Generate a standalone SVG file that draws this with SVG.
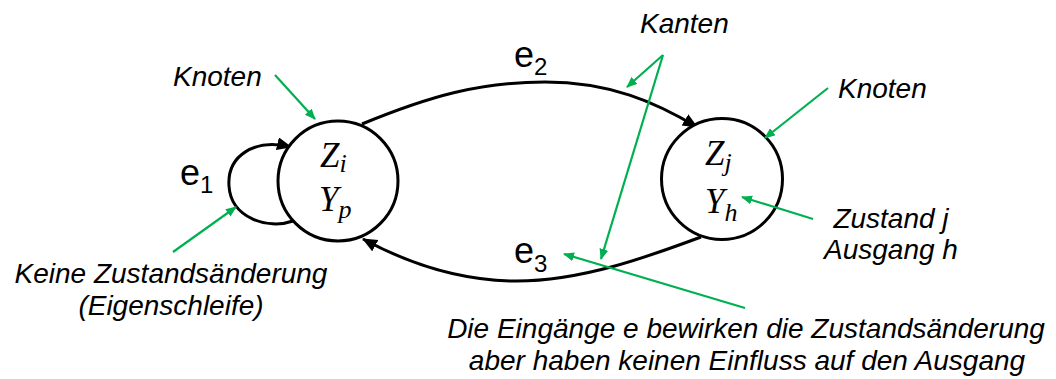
<svg xmlns="http://www.w3.org/2000/svg" width="1056" height="379" viewBox="0 0 1056 379">
<style>
.node{fill:#fff;stroke:#000;stroke-width:3}
.edge{fill:none;stroke:#000;stroke-width:3}
.ann{fill:none;stroke:#00B050;stroke-width:2.2}
.lbl{font-family:"Liberation Sans",Arial,sans-serif;font-style:italic;font-size:28px;fill:#000}
.e{font-family:"Liberation Sans",Arial,sans-serif;font-size:36px;fill:#000}
.es{font-size:24px}
.m{font-family:"Liberation Serif","Times New Roman",serif;font-style:italic;font-size:35px;fill:#000}
.ms{font-size:26px}
</style>
<defs>
<marker id="ah" markerUnits="userSpaceOnUse" markerWidth="16" markerHeight="14" refX="14" refY="6.5" orient="auto">
<path d="M0,0 L15,6.5 L0,13 z" fill="#000"/>
</marker>
<marker id="ga" markerUnits="userSpaceOnUse" markerWidth="12" markerHeight="10" refX="10" refY="4.5" orient="auto">
<path d="M0,0 L11,4.5 L0,9 z" fill="#00B050"/>
</marker>
</defs>
<g id="connectors">
<path class="edge" d="M293 221 C268 230 231 218 229 186 C227 156 254 138 291 147" marker-end="url(#ah)"/>
<path class="edge" d="M362 124 C430 96 480 82 545 82 C610 82 655 102 697 127" marker-end="url(#ah)"/>
<path class="edge" d="M701 237 C650 256 580 282 513 281 C450 280 400 259 363 239" marker-end="url(#ah)"/>
</g>
<g id="node-i">
<circle class="node" cx="338" cy="181" r="60"/>
<text class="m" x="320" y="167">Z<tspan class="ms" dy="5">i</tspan></text>
<text class="m" x="319" y="211">Y<tspan class="ms" dy="7">p</tspan></text>
</g>
<g id="node-j">
<circle class="node" cx="722" cy="179" r="60.5"/>
<text class="m" x="705" y="165">Z<tspan class="ms" dy="6">j</tspan></text>
<text class="m" x="705" y="213">Y<tspan class="ms" dy="8">h</tspan></text>
</g>
<g id="edge-labels">
<text class="e" x="180" y="185">e<tspan class="es" dy="8">1</tspan></text>
<text class="e" x="514" y="67">e<tspan class="es" dy="8">2</tspan></text>
<text class="e" x="514" y="263">e<tspan class="es" dy="9">3</tspan></text>
</g>
<g id="annotations">
<line class="ann" x1="275" y1="75" x2="315" y2="119" marker-end="url(#ga)"/>
<line class="ann" x1="173" y1="252" x2="236" y2="207" marker-end="url(#ga)"/>
<line class="ann" x1="663" y1="55" x2="627" y2="87" marker-end="url(#ga)"/>
<line class="ann" x1="663" y1="55" x2="601" y2="259" marker-end="url(#ga)"/>
<line class="ann" x1="828" y1="88" x2="765" y2="138" marker-end="url(#ga)"/>
<line class="ann" x1="813" y1="219" x2="742" y2="197" marker-end="url(#ga)"/>
<line class="ann" x1="745" y1="308" x2="564" y2="254" marker-end="url(#ga)"/>
</g>
<g id="texts">
<text class="lbl" x="173" y="86">Knoten</text>
<text class="lbl" x="640" y="33">Kanten</text>
<text class="lbl" x="838" y="98">Knoten</text>
<text class="lbl" x="891" y="228" text-anchor="middle">Zustand j</text>
<text class="lbl" x="891" y="259" text-anchor="middle">Ausgang h</text>
<text class="lbl" x="171" y="283" text-anchor="middle">Keine Zustandsänderung</text>
<text class="lbl" x="171" y="315" text-anchor="middle">(Eigenschleife)</text>
<text class="lbl" x="746" y="338" text-anchor="middle">Die Eingänge e bewirken die Zustandsänderung</text>
<text class="lbl" x="747" y="370" text-anchor="middle">aber haben keinen Einfluss auf den Ausgang</text>
</g>
</svg>
